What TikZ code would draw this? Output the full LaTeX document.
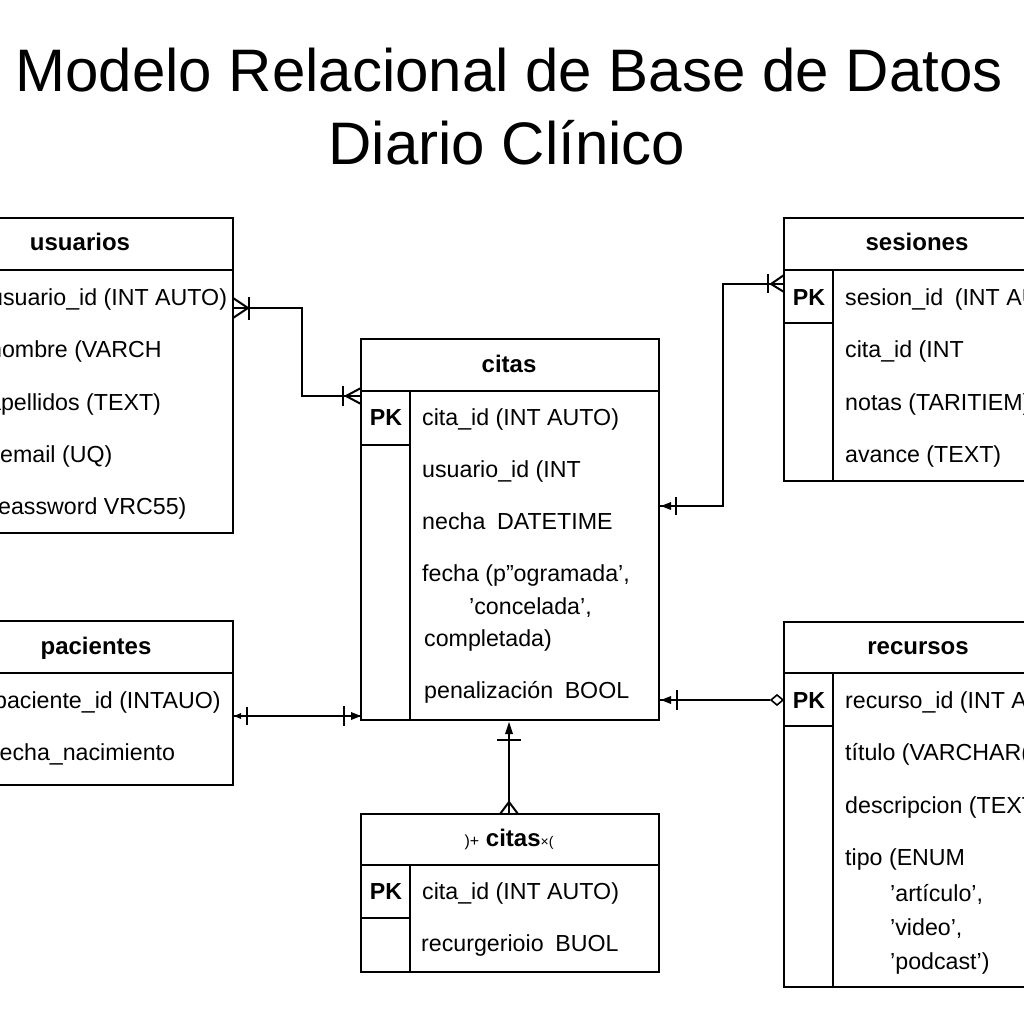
\documentclass[tikz,border=0pt]{standalone}
\usepackage{fontspec}
\setmainfont{Liberation Sans}
\usetikzlibrary{calc}
\begin{document}
\begin{tikzpicture}[x=1pt,y=-1pt,
  ent/.style={draw, line width=2pt, anchor=north west, inner sep=0pt, outer sep=0pt},
  sep/.style={line width=2pt},
  div/.style={line width=1.6pt},
  conn/.style={line width=2pt},
  fld/.style={font=\fontsize{23.2}{27}\selectfont, anchor=west, inner sep=0pt, text height=16.5pt, text depth=0pt},
  hdr/.style={font=\bfseries\fontsize{24}{28}\selectfont, inner sep=0pt, text height=12.5pt, text depth=0pt},
  pk/.style={font=\bfseries\fontsize{23.2}{27}\selectfont, inner sep=0pt, text height=16.5pt, text depth=0pt},
  ttl/.style={font=\fontsize{60}{66}\selectfont, inner sep=0pt, text height=43pt, text depth=0pt}]
\useasboundingbox (0,0) rectangle (1024,1024);
\fill[white] (0,0) rectangle (1024,1024);
\clip (0,0) rectangle (1024,1024);

% title
\node[ttl] (t1) at (509,70) {Modelo Relacional de Base de Datos};
\node[ttl] (t2) at (507,143) {Diario Clínico};

% ---------- usuarios ----------
\node[ent, minimum width=313, minimum height=315] (usuarios) at (-80,218) {};
\draw[sep] ($(usuarios.north west)+(0,52)$) -- ($(usuarios.north east)+(0,52)$);
\node[hdr] (uh) at (80,244) {usuarios};
\node[fld] (u1) at (-10,297) {usuario\_id (INT AUTO)};
\node[fld] (u2) at (-11,349) {nombre (VARCH};
\node[fld] (u3) at (-12,402) {apellidos (TEXT)};
\node[fld] (u4) at (0,454) {email (UQ)};
\node[fld] (u5) at (-2,506) {eassword VRC55)};

% ---------- pacientes ----------
\node[ent, minimum width=313, minimum height=164] (pacientes) at (-80,621) {};
\draw[sep] ($(pacientes.north west)+(0,52)$) -- ($(pacientes.north east)+(0,52)$);
\node[hdr] (ph) at (96,648) {pacientes};
\node[fld] (p1) at (-6,700) {paciente\_id (INTAUO)};
\node[fld] (p2) at (-7,752) {fecha\_nacimiento};

% ---------- citas ----------
\node[ent, minimum width=298, minimum height=381] (citas) at (361,339) {};
\draw[sep] ($(citas.north west)+(0,52)$) -- ($(citas.north east)+(0,52)$);
\draw[div] ($(citas.north west)+(49,52)$) -- ($(citas.south west)+(49,0)$);
\draw[div] ($(citas.north west)+(0,106)$) -- ($(citas.north west)+(49,106)$);
\node[hdr] (ch) at (509,366) {citas};
\node[pk] (cpk) at (386,417) {PK};
\node[fld] (c1) at (422,417) {cita\_id (INT AUTO)};
\node[fld] (c2) at (422,469) {usuario\_id (INT};
\node[fld] (c3) at (422,521) {necha\enspace DATETIME};
\node[fld] (c4) at (422,573) {fecha (p”ogramada’,};
\node[fld] (c5) at (469,606) {’concelada’,};
\node[fld] (c6) at (424,638) {completada)};
\node[fld] (c7) at (424,690) {penalización\enspace BOOL};

% ---------- sesiones ----------
\node[ent, minimum width=320, minimum height=263] (sesiones) at (784,218) {};
\draw[sep] ($(sesiones.north west)+(0,52)$) -- ($(sesiones.north east)+(0,52)$);
\draw[div] ($(sesiones.north west)+(49,52)$) -- ($(sesiones.south west)+(49,0)$);
\draw[div] ($(sesiones.north west)+(0,105)$) -- ($(sesiones.north west)+(49,105)$);
\node[hdr] (sh) at (917,244) {sesiones};
\node[pk] (spk) at (809,297) {PK};
\node[fld] (s1) at (845,297) {sesion\_id\enspace (INT AUTO)};
\node[fld] (s2) at (845,349) {cita\_id (INT};
\node[fld] (s3) at (845,402) {notas (TARITIEM)};
\node[fld] (s4) at (845,454) {avance (TEXT)};

% ---------- recursos ----------
\node[ent, minimum width=320, minimum height=365] (recursos) at (784,622) {};
\draw[sep] ($(recursos.north west)+(0,51)$) -- ($(recursos.north east)+(0,51)$);
\draw[div] ($(recursos.north west)+(49,51)$) -- ($(recursos.south west)+(49,0)$);
\draw[div] ($(recursos.north west)+(0,104)$) -- ($(recursos.north west)+(49,104)$);
\node[hdr] (rh) at (918,648) {recursos};
\node[pk] (rpk) at (809,700) {PK};
\node[fld] (r1) at (845,700) {recurso\_id (INT AUTO)};
\node[fld] (r2) at (845,752) {título (VARCHAR(255))};
\node[fld] (r3) at (845,805) {descripcion (TEXT)};
\node[fld] (r4) at (845,857) {tipo (ENUM};
\node[fld] (r5) at (890,893) {’artículo’,};
\node[fld] (r6) at (890,927) {’video’,};
\node[fld] (r7) at (890,961) {’podcast’)};

% ---------- bottom citas ----------
\node[ent, minimum width=298, minimum height=158] (citas2) at (361,814) {};
\draw[sep] ($(citas2.north west)+(0,51)$) -- ($(citas2.north east)+(0,51)$);
\draw[div] ($(citas2.north west)+(49,51)$) -- ($(citas2.south west)+(49,0)$);
\draw[div] ($(citas2.north west)+(0,104)$) -- ($(citas2.north west)+(49,104)$);
\node[hdr] (bh) at (509,840) {{\mdseries\fontsize{16}{18}\selectfont )+} citas{\mdseries\fontsize{14}{16}\selectfont ×(}};
\node[pk] (bpk) at (386,891) {PK};
\node[fld] (b1) at (422,891) {cita\_id (INT AUTO)};
\node[fld] (b2) at (421,943) {recurgerioio\enspace BUOL};

% ---------- connectors ----------
% usuarios -> citas
\coordinate (ua) at ($(usuarios.north east)+(0,90)$);
\coordinate (cb) at ($(citas.north west)+(0,57)$);
\draw[conn] (ua) -- ($(ua)+(69,0)$) |- (cb);
\draw[conn] ($(ua)+(0,-10)$) -- ($(ua)+(15,0)$) -- ($(ua)+(0,10)$);
\draw[conn] ($(ua)+(16,-11)$) -- ($(ua)+(16,12)$);
\draw[conn] ($(cb)+(-18,-10)$) -- ($(cb)+(-18,10)$);
\draw[conn] ($(cb)+(0,-8)$) -- ($(cb)+(-15,0)$) -- ($(cb)+(0,8)$);

% sesiones -> citas
\coordinate (cs) at ($(citas.north east)+(0,167)$);
\coordinate (se) at ($(sesiones.north west)+(0,66)$);
\draw[conn] (cs) -- ($(cs)+(64,0)$) |- (se);
\fill ($(cs)+(2,0)$) -- ($(cs)+(12,-4)$) -- ($(cs)+(12,4)$) -- cycle;
\draw[conn] ($(cs)+(17,-9)$) -- ($(cs)+(17,9)$);
\draw[conn] ($(se)+(-16,-10)$) -- ($(se)+(-16,9)$);
\draw[conn] ($(se)+(0,-9)$) -- ($(se)+(-13,0)$) -- ($(se)+(0,8)$);

% pacientes -> citas
\coordinate (pa) at ($(pacientes.north east)+(0,95)$);
\coordinate (cp) at ($(citas.south west)+(0,-4)$);
\draw[conn] (pa) -- (cp);
\fill ($(pa)+(1,0)$) -- ($(pa)+(8,-3)$) -- ($(pa)+(8,3)$) -- cycle;
\draw[conn] ($(pa)+(14,-9)$) -- ($(pa)+(14,9)$);
\draw[conn] ($(cp)+(-17,-10)$) -- ($(cp)+(-17,10)$);
\fill (cp) -- ($(cp)+(-10,-4)$) -- ($(cp)+(-10,4)$) -- cycle;

% recursos -> citas
\coordinate (rc) at ($(citas.north east)+(0,361)$);
\coordinate (rr) at ($(recursos.north west)+(0,78)$);
\draw[conn] (rc) -- ($(rr)+(-14,0)$);
\fill ($(rc)+(2,0)$) -- ($(rc)+(12,-4)$) -- ($(rc)+(12,4)$) -- cycle;
\draw[conn] ($(rc)+(18,-10)$) -- ($(rc)+(18,10)$);
\draw[line width=1.6pt] ($(rr)+(-1,0)$) -- ($(rr)+(-7,-5)$) -- ($(rr)+(-13,0)$) -- ($(rr)+(-7,5)$) -- cycle;

% citas2 -> citas
\coordinate (ct) at ($(citas.south)+(-1,0)$);
\coordinate (cq) at ($(citas2.north)+(-1,0)$);
\draw[conn] ($(ct)+(0,10)$) -- (cq);
\fill ($(ct)+(0,2)$) -- ($(ct)+(-4,14)$) -- ($(ct)+(4,14)$) -- cycle;
\draw[conn] ($(ct)+(-12,20)$) -- ($(ct)+(12,20)$);
\draw[conn] ($(cq)+(-9,0)$) -- ($(cq)+(0,-12)$) -- ($(cq)+(9,0)$);
\end{tikzpicture}
\end{document}
